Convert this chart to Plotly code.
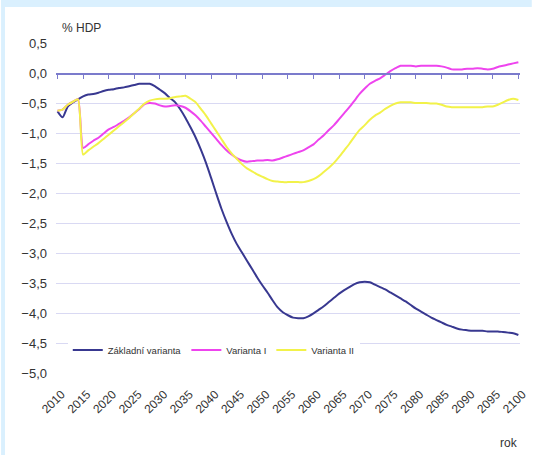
import plotly.graph_objects as go

years = list(range(2010, 2101))

zakladni = [
    -0.63, -0.73, -0.55, -0.48, -0.43, -0.38, -0.35, -0.34, -0.32, -0.29,
    -0.27, -0.26, -0.24, -0.23, -0.21, -0.19, -0.17, -0.17, -0.17, -0.21,
    -0.27, -0.33, -0.41, -0.48, -0.60, -0.74, -0.90, -1.07, -1.27, -1.49,
    -1.74, -2.00, -2.25, -2.47, -2.67, -2.84, -2.98, -3.12, -3.26, -3.40,
    -3.53, -3.65, -3.78, -3.90, -3.98, -4.03, -4.07, -4.08, -4.08, -4.05,
    -4.00, -3.94, -3.88, -3.81, -3.74, -3.67, -3.61, -3.56, -3.51, -3.48,
    -3.47, -3.48, -3.52, -3.56, -3.60, -3.65, -3.70, -3.75, -3.80, -3.86,
    -3.92, -3.97, -4.02, -4.07, -4.11, -4.15, -4.19, -4.22, -4.25, -4.27,
    -4.28, -4.29, -4.29, -4.29, -4.30, -4.30, -4.30, -4.31, -4.32, -4.33,
    -4.36,
]

varianta_1 = [
    -0.62, -0.60, -0.52, -0.47, -0.43, -1.24, -1.18, -1.12, -1.07, -1.00,
    -0.93, -0.89, -0.84, -0.79, -0.73, -0.66, -0.59, -0.51, -0.49, -0.50,
    -0.53, -0.55, -0.54, -0.53, -0.54, -0.57, -0.63, -0.70, -0.79, -0.89,
    -0.99, -1.09, -1.19, -1.28, -1.35, -1.41, -1.45, -1.47, -1.46, -1.45,
    -1.45, -1.44, -1.45, -1.43, -1.40, -1.37, -1.34, -1.31, -1.28, -1.23,
    -1.18, -1.10, -1.03, -0.94, -0.86, -0.76, -0.66, -0.56, -0.45, -0.34,
    -0.25, -0.17, -0.12, -0.08, -0.02, 0.04, 0.09, 0.13, 0.13, 0.13,
    0.12, 0.13, 0.13, 0.13, 0.13, 0.12, 0.10, 0.07, 0.07, 0.07,
    0.08, 0.08, 0.09, 0.08, 0.07, 0.08, 0.11, 0.13, 0.15, 0.17,
    0.19,
]

varianta_2 = [
    -0.62, -0.60, -0.52, -0.47, -0.43, -1.35, -1.28, -1.22, -1.16, -1.09,
    -1.02, -0.95, -0.88, -0.81, -0.74, -0.66, -0.58, -0.50, -0.45, -0.43,
    -0.42, -0.42, -0.41, -0.39, -0.38, -0.37, -0.42, -0.48, -0.59, -0.70,
    -0.83, -0.96, -1.09, -1.22, -1.33, -1.42, -1.51, -1.58, -1.63, -1.68,
    -1.72, -1.76, -1.79, -1.80, -1.81, -1.81, -1.81, -1.81, -1.81, -1.79,
    -1.76, -1.71, -1.64, -1.57, -1.49, -1.39, -1.28, -1.17, -1.05, -0.94,
    -0.86, -0.77, -0.70, -0.65, -0.59, -0.54, -0.50, -0.48, -0.48, -0.48,
    -0.49, -0.49, -0.49, -0.50, -0.50, -0.52, -0.55, -0.56, -0.56, -0.56,
    -0.56, -0.56, -0.56, -0.56, -0.55, -0.55, -0.52, -0.48, -0.44, -0.42,
    -0.44,
]

series_names = ["Základní varianta", "Varianta I", "Varianta II"]
series_colors = ["#383890", "#ee44ee", "#f2f24a"]

x_ticks = list(range(2010, 2101, 5))
y_ticks = [0.5 - 0.5 * i for i in range(12)]

W, H = 541, 455
ML, MR, MT, MB = 56, 12, 43, 81
Y_RANGE = [-5.01, 0.51]
X_RANGE = [2009.71, 2100.32]

pw = W - ML - MR
ph = H - MT - MB


def px_x(p):
    return (p - ML) / pw


def px_y(p):
    return (H - MB - p) / ph


TEXT = "#333333"
FONT = "Liberation Sans, Arial, sans-serif"

fig = go.Figure()
for name, vals, col in zip(series_names, [zakladni, varianta_1, varianta_2], series_colors):
    fig.add_trace(go.Scatter(x=years, y=vals, mode="lines", name=name,
                             line=dict(color=col, width=2, shape="spline", smoothing=0.6)))

# helper trace so the zero-line axis with ticks is drawn
fig.add_trace(go.Scatter(x=[years[0]], y=[None], xaxis="x2", showlegend=False,
                         hoverinfo="skip", mode="lines"))

zero_pos = (0 - Y_RANGE[0]) / (Y_RANGE[1] - Y_RANGE[0])

fig.update_layout(
    width=W, height=H,
    margin=dict(l=ML, r=MR, t=MT, b=MB, pad=0),
    paper_bgcolor="white", plot_bgcolor="white",
    separators=", ",
    showlegend=True,
    legend=dict(orientation="h", x=px_x(68), y=px_y(350), xanchor="left", yanchor="middle",
                bgcolor="white", font=dict(family=FONT, size=9.5, color=TEXT),
                itemwidth=30, tracegroupgap=0),
    xaxis=dict(range=X_RANGE, tickmode="array", tickvals=x_ticks,
               ticktext=[str(v) for v in x_ticks], tickangle=-45,
               tickfont=dict(family=FONT, size=12, color=TEXT),
               showgrid=False, zeroline=False, showline=False, ticks="",
               ticklabelstandoff=10, ticklabelshift=4),
    xaxis2=dict(range=X_RANGE, overlaying="x", anchor="free", position=zero_pos,
                side="bottom", tickmode="array", tickvals=x_ticks,
                showticklabels=False, showgrid=False, zeroline=False,
                showline=True, linecolor="#7b7bcc", linewidth=2,
                ticks="outside", ticklen=4, tickwidth=1, tickcolor="#7b7bcc"),
    yaxis=dict(range=Y_RANGE, tickmode="array", tickvals=y_ticks, tickformat=".1f",
               tickfont=dict(family=FONT, size=13, color=TEXT),
               showgrid=True, gridcolor="#d9d9f3", gridwidth=1,
               zeroline=False, showline=False, ticks="", ticklabelstandoff=8),
    annotations=[
        dict(text="% HDP", xref="paper", yref="paper", x=px_x(60), y=px_y(28),
             xanchor="left", yanchor="middle", showarrow=False,
             font=dict(family=FONT, size=12, color=TEXT)),
        dict(text="rok", xref="paper", yref="paper", x=px_x(529), y=px_y(443),
             xanchor="right", yanchor="middle", showarrow=False,
             font=dict(family=FONT, size=12, color=TEXT)),
    ],
    shapes=[
        dict(type="rect", xref="paper", yref="paper", x0=px_x(0), x1=px_x(W),
             y0=px_y(7), y1=px_y(0), fillcolor="#daf0fe", line=dict(width=0), layer="above"),
        dict(type="rect", xref="paper", yref="paper", x0=px_x(0), x1=px_x(4),
             y0=px_y(H), y1=px_y(0), fillcolor="#daf0fe", line=dict(width=0), layer="above"),
    ],
)

fig.write_html("out.html",
               config={"displayModeBar": False},
               post_script="document.body.style.margin='0';document.body.style.padding='0';"
                           "document.body.style.overflow='hidden';")
